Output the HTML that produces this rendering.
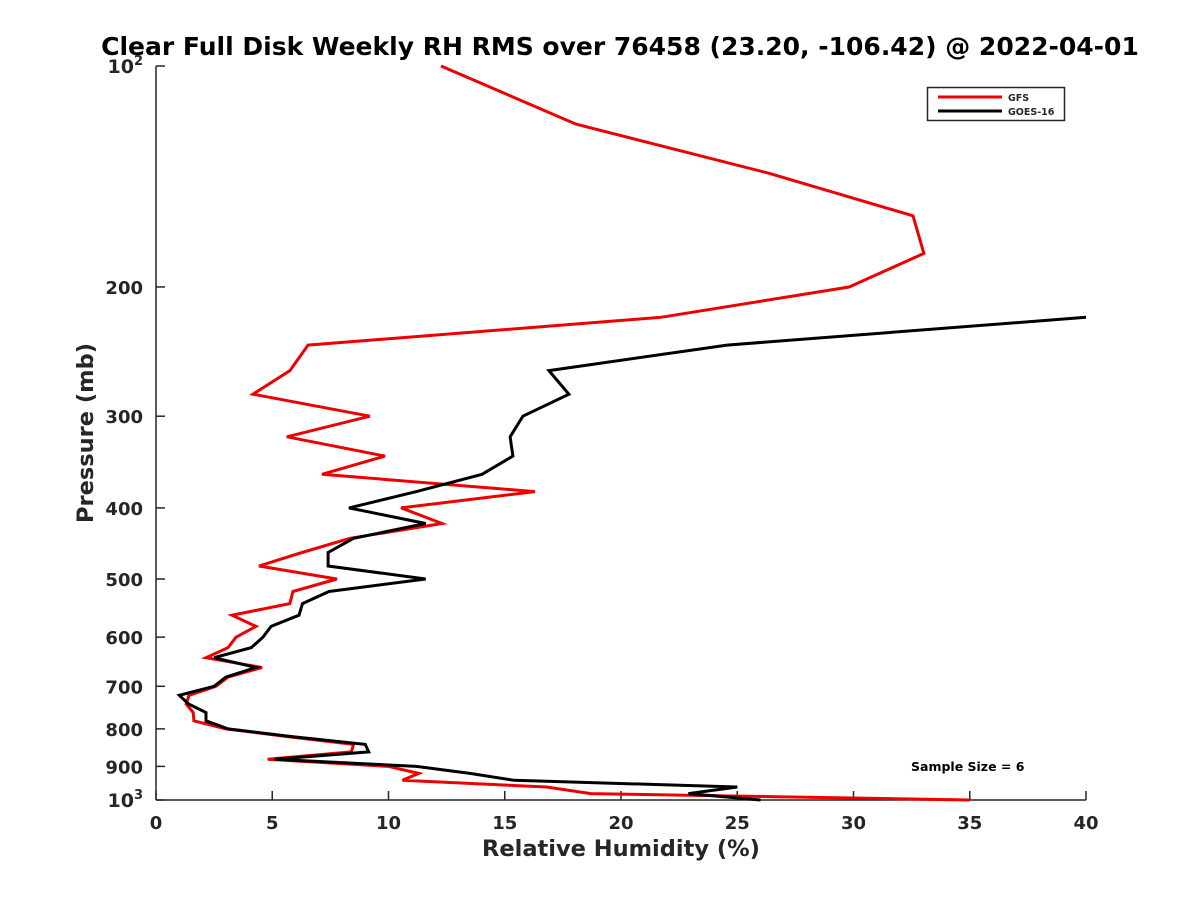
<!DOCTYPE html>
<html><head><meta charset="utf-8"><style>
body{margin:0;background:#fff}
svg text{font-family:"DejaVu Sans","Liberation Sans",sans-serif;font-weight:bold;fill:#262626}
</style></head><body>
<svg id="chart" width="1200" height="900" xmlns="http://www.w3.org/2000/svg">
<rect width="1200" height="900" fill="#fff"/>
<text x="620" y="55" font-size="25" text-anchor="middle" style="fill:#000">Clear Full Disk Weekly RH RMS over 76458 (23.20, -106.42) @ 2022-04-01</text>
<g id="axes"></g>
<g id="series"></g>
<text x="621" y="856" font-size="22.5" text-anchor="middle">Relative Humidity (%)</text>
<text transform="translate(93,433) rotate(-90)" font-size="22.5" text-anchor="middle">Pressure (mb)</text>
<g>
<rect x="927.5" y="87.5" width="137" height="33" fill="#fff" stroke="#262626" stroke-width="1.5"/>
<line x1="938" y1="97" x2="1002" y2="97" stroke="#e00" stroke-width="3"/>
<text x="1008" y="101" font-size="9.5">GFS</text>
<line x1="938" y1="111" x2="1002" y2="111" stroke="#000" stroke-width="3"/>
<text x="1008" y="115" font-size="9.5">GOES-16</text>
</g>
<text x="911" y="771" font-size="12.5" style="fill:#000">Sample Size = 6</text>
</svg>
<script>
const pressureLevels=[100,120,140,160,180,200,220,240,260,280,300,320,340,360,380,400,420,440,460,480,500,520,540,560,580,600,620,640,660,680,700,720,740,760,780,800,820,840,860,880,900,920,940,960,980,1000];
const gfsRH=[12.26,18.06,26.37,32.56,33.03,29.81,21.72,6.54,5.76,4.17,9.2,5.63,9.85,7.14,16.3,10.54,12.3,8.34,6.28,4.43,7.78,5.89,5.76,3.27,4.3,3.44,3.1,2.15,4.56,3.1,2.58,1.42,1.3,1.6,1.63,3.0,5.7,8.5,8.4,4.8,10.0,11.3,10.6,16.8,18.7,35.0];
const goesLevels=[220,240,260,280,300,320,340,360,380,400,420,440,460,480,500,520,540,560,580,600,620,640,660,680,700,720,740,760,780,800,820,840,860,880,900,920,940,960,980,1000];
const goesRH=[40,24.56,16.9,17.76,15.78,15.23,15.35,14.02,11.2,8.3,11.6,8.5,7.4,7.4,11.6,7.44,6.3,6.15,4.95,4.6,4.1,2.5,4.3,3.0,2.5,1.0,1.4,2.15,2.15,3.1,5.9,9.0,9.15,5.1,11.2,13.5,15.4,25.0,22.9,26.0];
const xTicks=[0,5,10,15,20,25,30,35,40];
const yTicks=[100,200,300,400,500,600,700,800,900,1000];
const yTickLabels=["10|2","200","300","400","500","600","700","800","900","10|3"];
const X0=156,X1=1086,Y0=66,Y1=800;
const xs=v=>X0+(v/40)*(X1-X0);
const ys=p=>Y0+Math.log10(p/100)*(Y1-Y0);
const NS="http://www.w3.org/2000/svg";
const axes=document.getElementById('axes'),series=document.getElementById('series');
function mk(tag,attrs,parent){const e=document.createElementNS(NS,tag);for(const k in attrs)e.setAttribute(k,attrs[k]);parent.appendChild(e);return e;}
const xl=mk('line',{x1:X0,y1:Y1,x2:X1,y2:Y1,stroke:'#262626','stroke-width':1.5},axes);


const yl=mk('line',{x1:X0,y1:Y0,x2:X0,y2:Y1,stroke:'#262626','stroke-width':1.5},axes);


xTicks.forEach(v=>{
 const x=xs(v);
 mk('line',{x1:x,y1:Y1,x2:x,y2:Y1-9,stroke:'#262626','stroke-width':1.5},axes);
 const t=mk('text',{x:x,y:Y1+29,'font-size':18,'text-anchor':'middle'},axes);
 t.textContent=v;
 
 
});
yTicks.forEach((p,i)=>{
 const y=ys(p);
 mk('line',{x1:X0,y1:y,x2:X0+9,y2:y,stroke:'#262626','stroke-width':1.5},axes);
 const lab=yTickLabels[i];
 if(lab.indexOf('|')>=0){
  const [b,e]=lab.split('|');
  const t=mk('text',{x:X0-13,y:y+7,'font-size':19,'text-anchor':'end'},axes);
  
  
  const s1=mk('tspan',{},t);s1.textContent=b;
  const s2=mk('tspan',{dy:-8,'font-size':13},t);s2.textContent=e;
 } else {
  const t=mk('text',{x:X0-13,y:y+7,'font-size':18,'text-anchor':'end'},axes);
  t.textContent=lab;
  
  
 }
});
const cp=mk('clipPath',{id:'clip'},axes);mk('rect',{x:X0,y:Y0-2,width:X1-X0+1,height:Y1-Y0+4},cp);
function line(lv,vals,color,name){
 const pts=lv.map((p,i)=>xs(vals[i]).toFixed(1)+','+ys(p).toFixed(1)).join(' ');
 const pl=mk('polyline',{points:pts,fill:'none',stroke:color,'stroke-width':3,'stroke-linejoin':'miter','clip-path':'url(#clip)'},series);
 
 
}
line(pressureLevels,gfsRH,'#e00','gfs-line');
line(goesLevels,goesRH,'#000','goes16-line');
</script>
</body></html>
